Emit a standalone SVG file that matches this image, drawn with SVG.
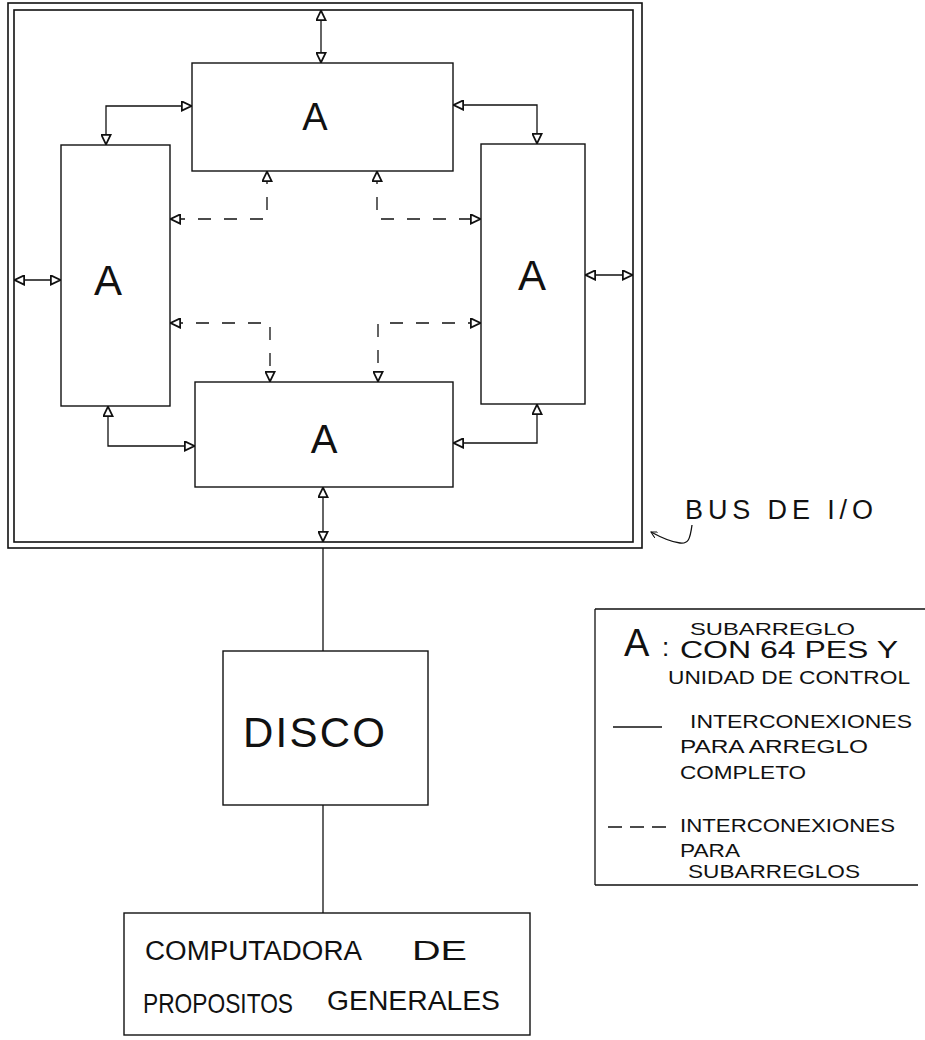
<svg xmlns="http://www.w3.org/2000/svg" width="925" height="1040" viewBox="0 0 925 1040">
<style>
.box{fill:none;stroke:#111;stroke-width:1.4}
.frame{fill:none;stroke:#111;stroke-width:1.6}
.ln{fill:none;stroke:#111;stroke-width:1.3}
.dash{fill:none;stroke:#111;stroke-width:1.3;stroke-dasharray:13 13}
.t{font-family:"Liberation Sans",Arial,sans-serif;fill:#111}
</style>
<defs>
<marker id="ah" viewBox="0 0 10 10" refX="10" refY="5" markerWidth="11" markerHeight="11" markerUnits="userSpaceOnUse" orient="auto-start-reverse">
<path d="M0.8,0.8 L9.5,5 L0.8,9.2 Z" fill="#fff" stroke="#111" stroke-width="1.6"/>
</marker>
<marker id="sm" viewBox="0 0 10 10" refX="9" refY="5" markerWidth="7" markerHeight="7" markerUnits="userSpaceOnUse" orient="auto">
<path d="M0,0 L9,5 L0,10" fill="none" stroke="#111" stroke-width="1.5"/>
</marker>
</defs>
<rect width="925" height="1040" fill="#fff"/>

<g id="bus-frame">
<rect class="frame" x="8" y="3" width="634" height="545"/>
<rect class="frame" x="14" y="10" width="619" height="532"/>
</g>

<g id="node-top-A">
<rect class="box" x="192" y="63" width="261" height="108"/>
<text class="t" x="315" y="130" font-size="38" text-anchor="middle">A</text>
</g>
<g id="node-left-A">
<rect class="box" x="61" y="145" width="109" height="261"/>
<text class="t" x="108" y="295" font-size="42" text-anchor="middle">A</text>
</g>
<g id="node-right-A">
<rect class="box" x="481" y="144" width="104" height="260"/>
<text class="t" x="532" y="290" font-size="42" text-anchor="middle">A</text>
</g>
<g id="node-bottom-A">
<rect class="box" x="195" y="382" width="258" height="105"/>
<text class="t" x="324" y="453" font-size="40" text-anchor="middle">A</text>
</g>

<g id="node-disco">
<rect class="box" x="223" y="651" width="205" height="154"/>
<text class="t" x="243" y="747" font-size="42" textLength="142" lengthAdjust="spacing">DISCO</text>
</g>
<g id="node-computadora">
<rect class="box" x="124" y="913" width="406" height="122"/>
<text class="t" font-size="27"><tspan x="145" y="960" textLength="217" lengthAdjust="spacingAndGlyphs">COMPUTADORA</tspan><tspan x="412" y="960" font-size="28" textLength="55" lengthAdjust="spacingAndGlyphs">DE</tspan></text>
<text class="t" font-size="28"><tspan x="143" y="1013" textLength="150" lengthAdjust="spacingAndGlyphs">PROPOSITOS</tspan><tspan x="327" y="1010" textLength="173" lengthAdjust="spacingAndGlyphs">GENERALES</tspan></text>
</g>

<g id="connectors">
<path class="ln" d="M321 10 V63" marker-start="url(#ah)" marker-end="url(#ah)"/>
<path class="ln" d="M192 106 H106 V145" marker-start="url(#ah)" marker-end="url(#ah)"/>
<path class="ln" d="M453 105 H537 V144" marker-start="url(#ah)" marker-end="url(#ah)"/>
<path class="ln" d="M14 280 H61" marker-start="url(#ah)" marker-end="url(#ah)"/>
<path class="ln" d="M585 275 H633" marker-start="url(#ah)" marker-end="url(#ah)"/>
<path class="ln" d="M108 406 V446 H195" marker-start="url(#ah)" marker-end="url(#ah)"/>
<path class="ln" d="M453 443 H537 V404" marker-start="url(#ah)" marker-end="url(#ah)"/>
<path class="ln" d="M323 487 V542" marker-start="url(#ah)" marker-end="url(#ah)"/>
<path class="dash" d="M267 171 V219 H170" marker-start="url(#ah)" marker-end="url(#ah)"/>
<path class="dash" d="M377 171 V219 H481" marker-start="url(#ah)" marker-end="url(#ah)"/>
<path class="dash" d="M170 323 H270 V382" marker-start="url(#ah)" marker-end="url(#ah)"/>
<path class="dash" d="M481 323 H378 V382" marker-start="url(#ah)" marker-end="url(#ah)"/>
<path class="ln" d="M323 548 V651"/>
<path class="ln" d="M323 805 V913"/>
<path class="ln" d="M692 525 C690 540 688 544 680 543 C670 542 662 538 651 532" marker-end="url(#sm)"/>
</g>

<g id="bus-label">
<text class="t" x="685" y="519" font-size="27" textLength="188" lengthAdjust="spacing">BUS DE I/O</text>
</g>

<g id="legend">
<path class="ln" d="M595 609 H925 M595 609 V885 M595 885 H918"/>
<text class="t" x="624" y="656" font-size="38">A</text>
<text class="t" x="662" y="656" font-size="26">:</text>
<text class="t" x="690" y="635" font-size="17" textLength="165" lengthAdjust="spacingAndGlyphs">SUBARREGLO</text>
<text class="t" x="680" y="658" font-size="23" textLength="218" lengthAdjust="spacingAndGlyphs">CON 64 PES Y</text>
<text class="t" x="668" y="684" font-size="19" textLength="242" lengthAdjust="spacingAndGlyphs">UNIDAD DE CONTROL</text>
<path class="ln" d="M613 727 H662" stroke-width="1.8"/>
<text class="t" x="690" y="728" font-size="18" textLength="222" lengthAdjust="spacingAndGlyphs">INTERCONEXIONES</text>
<text class="t" x="680" y="753" font-size="19" textLength="188" lengthAdjust="spacingAndGlyphs">PARA ARREGLO</text>
<text class="t" x="680" y="779" font-size="19" textLength="126" lengthAdjust="spacingAndGlyphs">COMPLETO</text>
<path class="ln" d="M608 827 H668" stroke-dasharray="14 8" stroke-width="1.8"/>
<text class="t" x="680" y="832" font-size="18" textLength="215" lengthAdjust="spacingAndGlyphs">INTERCONEXIONES</text>
<text class="t" x="680" y="857" font-size="18" textLength="60" lengthAdjust="spacingAndGlyphs">PARA</text>
<text class="t" x="688" y="878" font-size="18" textLength="172" lengthAdjust="spacingAndGlyphs">SUBARREGLOS</text>
</g>
</svg>
